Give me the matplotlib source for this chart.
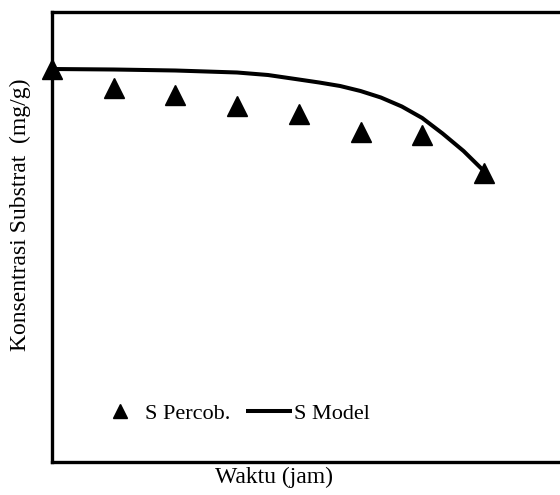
import matplotlib.pyplot as plt

plt.rcParams['font.family'] = ['Liberation Serif', 'DejaVu Serif']

# data (arbitrary units, axis has no tick labels)
waktu = [0, 1, 2, 3, 4, 5, 6, 7]
s_percob = [39.3, 37.4, 36.7, 35.6, 34.8, 33.0, 32.7, 28.9]

waktu_model = [0, 1, 2, 3, 3.5, 4, 4.33, 4.67, 5, 5.33, 5.67, 6, 6.33,
               6.67, 7]
s_model = [39.3, 39.25, 39.15, 38.95, 38.7, 38.25, 37.95, 37.6, 37.1, 36.45,
           35.55, 34.4, 32.85, 31.1, 29.1]

fig = plt.figure(figsize=(5.6, 4.95), dpi=100)
ax = fig.add_axes([52/560, 33/495, 1.0, 450/495])

ax.plot(waktu, s_percob, linestyle='none', marker='^', ms=14,
        color='black', label='S Percob.', clip_on=False, zorder=3)
ax.plot(waktu_model, s_model, color='black', lw=2.9, label='S Model',
        solid_capstyle='butt', solid_joinstyle='round')

ax.set_xlim(0, 560 / 61.7)
ax.set_ylim(0, 45)
ax.set_xticks([])
ax.set_yticks([])
for side in ['left', 'top', 'bottom']:
    ax.spines[side].set_linewidth(2.4)
ax.spines['right'].set_visible(False)

fig.text(20/560, 1 - 215/495, 'Konsentrasi Substrat  (mg/g)', rotation=90,
         ha='center', va='center', fontsize=17)
fig.text(274/560, 1 - 477/495, 'Waktu (jam)', ha='center', va='center',
         fontsize=17)

ax.legend(loc='center left', bbox_to_anchor=(86/560, 1 - 414/495),
          bbox_transform=fig.transFigure, ncol=2, frameon=False,
          borderpad=0, handlelength=2.1, handletextpad=0.05,
          columnspacing=0.7, fontsize=16, markerscale=0.75)

fig.savefig('out.png', dpi=100)
